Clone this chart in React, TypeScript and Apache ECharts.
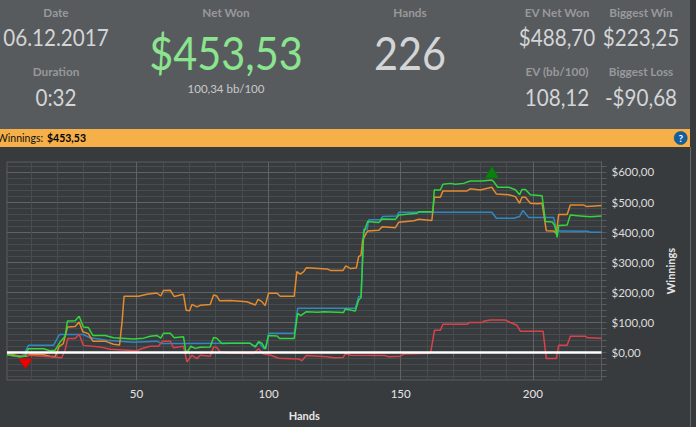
import React, { useEffect, useRef } from "react";
import * as echarts from "echarts";

const W = 696;
const H = 427;

const blueValues = [[1,-7],[5.9,-14],[7.4,-7],[9.1,24],[18.6,24],[20.8,60],[29.9,60],[32.4,49],[38.8,41],[43.8,38],[48.9,34],[57.7,38],[59.6,30],[67.8,30],[85.5,31],[93,31],[95,17],[96.2,36],[98.1,14],[99,14],[100,64],[109.7,64],[111,147],[128.4,147],[132.8,147],[134.1,186],[135,186],[136,410],[137.3,410],[137.9,441],[142.3,441],[143.2,452],[148.6,454],[149.3,466],[184.5,466],[186.2,446],[192.8,446],[195,452],[196.3,472],[198.4,449],[207.9,449],[208.9,404],[209.8,404],[220.6,403],[221.8,400],[226,400]];

const orangeValues = [[1,-3],[5.9,-12],[8.5,-12],[9.7,-6],[14.8,-7],[17.3,-12],[19.2,-14],[20.8,21],[22.3,30],[23.9,85],[26.8,87],[28.3,102],[29.7,69],[31.8,63],[33.5,38],[38.1,38],[41.3,28],[43.6,25],[44.6,107],[45.3,187],[50.8,187],[54,194],[57.7,198],[59.2,188],[60.2,206],[62.8,207],[64.3,186],[67.8,194],[68.8,141],[70.1,139],[71,160],[72.9,152],[74.1,157],[77.9,160],[79.2,191],[80.4,188],[81.5,172],[85.5,173],[91.8,169],[95,158],[96,177],[97.5,169],[98.7,156],[100,197],[103.2,197],[104.4,187],[109.7,187],[110.7,269],[112,261],[113.3,269],[114.3,282],[122.1,278],[123.4,273],[128.2,273],[129.2,288],[131,279],[133.2,281],[134.1,319],[135,324],[135.6,374],[137.5,404],[141.7,406],[143,418],[148,415],[149.3,433],[155,438],[156.8,443],[161.8,439],[162.7,516],[165,516],[166,537],[175.1,537],[176.3,544],[180.1,540],[184.5,549],[186.2,527],[190.9,524],[193.4,518],[195,496],[195.9,516],[197.2,516],[199.1,496],[201.6,494],[203.5,496],[205.1,405],[207.9,404],[208.9,396],[209.8,459],[213,459],[214.2,490],[219.3,490],[220.5,485],[226,488.7]];

const redValues = [[1,-7],[5.9,-14],[8.5,-9],[17.3,-14],[21.7,-17],[23,8],[24,47],[26.8,47],[28.3,61],[29.9,24],[36.2,19],[40,11],[50,6],[52,13],[55.2,21],[58.3,21],[59.9,38],[62.8,38],[64,16],[67.8,21],[69.1,-31],[71,-9],[72.9,-20],[74.1,-9],[77.9,-12],[79.2,19],[80.4,17],[81.7,2],[85.5,-1],[94.3,-3],[96.2,13],[98.1,-5],[100.6,-8],[103.8,-19],[111.4,-21],[112.6,-27],[114.3,-10],[122.1,-14],[124.6,-17],[128.2,-16],[129.2,-3],[131,-9],[144.2,-10],[145.5,-14],[149.9,-12],[151.2,-5],[161.3,-2],[162.8,74],[165,74],[166,94],[175.1,94],[176.1,100],[180.8,100],[181.4,104],[183.9,108],[189.6,108],[191.5,100],[194,91],[195.3,71],[203.9,71],[205.1,-20],[208.9,-20],[209.8,24],[213,24],[214.2,54],[219.9,54],[220.9,49],[226,48]];

const greenValues = [[1,-7],[5.9,-14],[7.8,-12],[9.1,13],[14.8,13],[17.3,6],[19.2,8],[21.1,35],[23,54],[23.9,105],[26.8,106],[28.3,121],[29.9,85],[31.8,83],[33.5,57],[38.1,57],[41.3,49],[48.9,45],[52.7,48],[55.2,54],[57.7,57],[59.2,48],[60.2,64],[62.8,64],[64.3,49],[67.8,53],[68.8,-3],[70.6,21],[72.2,14],[74.1,18],[77.9,19],[79.2,50],[80.4,48],[82.3,30],[85.5,31],[93,31],[95,20],[96.2,36],[97.5,31],[98.7,12],[100,57],[103.2,55],[104.2,47],[109.7,47],[111,130],[112.2,123],[114.3,136],[118.6,134],[120.8,136],[128.4,133],[129,145],[132.8,138],[134.1,175],[135,183],[136,398],[137.5,435],[141.7,432],[143,444],[148,443],[149.3,457],[156.2,463],[156.8,468],[162.2,468],[162.7,540],[165,540],[166,559],[168.8,562],[170.7,559],[173.8,562],[176.3,570],[180.8,570],[184.5,573],[185.2,568],[186.7,549],[190.9,549],[193.4,541],[195,524],[195.9,542],[197.2,542],[199.1,524],[203.5,521],[204.8,435],[207.3,434],[208.3,422],[209.2,383],[209.8,422],[213,424],[214.2,457],[218,454],[221.8,451],[226,453.53]];

const zeroValues = [[1,0],[226,0]];
const lowPoint = [8, -14];
const highPoint = [184.5, 573];

const xTicks = [10,20,30,40,50,60,70,80,90,100,110,120,130,140,150,160,170,180,190,200,210,220];
const xLabels = [50,100,150,200];
const yTicks = [-80,-60,-40,-20,0,20,40,60,80,100,120,140,160,180,200,220,240,260,280,300,320,340,360,380,400,420,440,460,480,500,520,540,560,580,600,620];
const yLabels = [0,100,200,300,400,500,600];

const headerLabels = [
  { text: "Date", x: 56, y: 12 },
  { text: "Duration", x: 56, y: 71 },
  { text: "Net Won", x: 226, y: 12 },
  { text: "Hands", x: 410, y: 12 },
  { text: "EV Net Won", x: 557, y: 12 },
  { text: "EV (bb/100)", x: 557, y: 71 },
  { text: "Biggest Win", x: 641, y: 12 },
  { text: "Biggest Loss", x: 641, y: 71 },
];
const headerValues = [
  { text: "06.12.2017", x: 56, y: 37 },
  { text: "0:32", x: 56, y: 97 },
  { text: "$488,70", x: 557, y: 37 },
  { text: "108,12", x: 557, y: 97 },
  { text: "$223,25", x: 641, y: 37 },
  { text: "-$90,68", x: 641, y: 97 },
];

const FONT = "Lato, 'Open Sans', sans-serif";
const MINOR = "#494c4f";
const MAJOR = "#606365";
const gridColors = [MINOR, MINOR, MINOR, MINOR, MAJOR];

function hText(t: any, size: number, fill: string, weight: any = "normal", sx = 0.86) {
  return {
    type: "text",
    x: t.x,
    y: t.y,
    scaleX: sx,
    z: 5,
    style: { text: t.text, fill, font: `${weight} ${size}px ${FONT}`, textAlign: "center", textVerticalAlign: "middle" },
  };
}

export default function App() {
  const ref = useRef<HTMLDivElement>(null);
  useEffect(() => {
    const chart = echarts.init(ref.current!, undefined, { renderer: "svg", width: W, height: H });
    const line = (name: string, data: number[][], color: string, extra: any = {}) => ({
      name,
      type: "line",
      data,
      showSymbol: false,
      symbol: "none",
      silent: true,
      clip: false,
      lineStyle: { color, width: 1.5 },
      ...extra,
    });
    chart.setOption({
      animation: false,
      backgroundColor: "#383b3e",
      grid: { left: 7, right: 94.5, top: 162, bottom: 47, show: true, borderColor: "#5a5d5f", borderWidth: 1, backgroundColor: "transparent" },
      xAxis: {
        type: "value",
        min: 1,
        max: 226,
        splitLine: { show: true, showMinLine: true, showMaxLine: true, lineStyle: { color: gridColors, width: 1 } },
        axisLine: { show: true, lineStyle: { color: "#5a5d5f" } },
        axisTick: { show: true, length: 5, customValues: xTicks, lineStyle: { color: "#5a5d5f" } },
        axisLabel: {
          color: "#e6e6e6",
          fontFamily: FONT,
          fontSize: 11.5,
          margin: 7,
          customValues: xLabels,
          formatter: (v: number) => String(v),
        },
        name: "Hands",
        nameLocation: "middle",
        nameGap: 30,
        nameTextStyle: { color: "#e6e6e6", fontFamily: FONT, fontWeight: "bold", fontSize: 11 },
      },
      yAxis: {
        type: "value",
        position: "right",
        min: -91,
        max: 633,
        splitLine: { show: true, showMinLine: true, showMaxLine: true, lineStyle: { color: gridColors, width: 1 } },
        axisLine: { show: true, lineStyle: { color: "#5a5d5f" } },
        axisTick: { show: true, length: 5, customValues: yTicks, lineStyle: { color: "#5a5d5f" } },
        axisLabel: {
          color: "#dcdcdc",
          fontFamily: FONT,
          fontSize: 11.5,
          margin: 10,
          customValues: yLabels,
          formatter: (v: number) => `$${v},00`,
        },
        name: "Winnings",
        nameLocation: "middle",
        nameRotate: 90,
        nameGap: 62,
        nameTextStyle: { color: "#e6e6e6", fontFamily: FONT, fontWeight: "bold", fontSize: 11 },
      },
      series: [
        line("EV", blueValues, "#2f88c6"),
        line("Showdown", orangeValues, "#e58b2d"),
        line("No showdown", redValues, "#d8424b"),
        line("Net", greenValues, "#2fd63c", {
          markPoint: {
            silent: true,
            label: { show: false },
            data: [
              { coord: lowPoint, symbol: "triangle", symbolRotate: 180, symbolSize: [14, 10], symbolOffset: [0, 7], itemStyle: { color: "#f00000", borderColor: "#9a1010", borderWidth: 0.5 } },
              { coord: highPoint, symbol: "triangle", symbolSize: [14, 12], symbolOffset: [0, -8], itemStyle: { color: "#0b800f", borderColor: "#0b5f0f", borderWidth: 0.5 } },
            ],
          },
        }),
        line("Zero", zeroValues, "#ffffff", { lineStyle: { color: "#ffffff", width: 2.5 } }),
      ],
      graphic: [
        { type: "rect", z: 1, shape: { x: 0, y: 0, width: 690, height: 129 }, style: { fill: "#575b5e" } },
        { type: "rect", z: 1, shape: { x: 0, y: 129, width: 690, height: 18 }, style: { fill: "#f5b049" } },
        { type: "rect", z: 1, shape: { x: 690, y: 147, width: 1, height: 280 }, style: { fill: "#66696b" } },
        ...headerLabels.map((t) => hText(t, 12, "#98999b", "bold", 0.98)),
        ...headerValues.map((t) => hText(t, 24, "#d4d5d6")),
        hText({ text: "$453,53", x: 226, y: 52 }, 46, "#8be58f", "normal", 0.9),
        hText({ text: "226", x: 410, y: 52 }, 46, "#d4d5d6", "normal", 0.9),
        hText({ text: "100,34 bb/100", x: 226, y: 88 }, 11.5, "#c8c9ca", "normal", 1),
        { type: "text", x: -3, y: 138, z: 5, style: { text: "Winnings:", fill: "#111", font: `normal 10.5px ${FONT}`, textVerticalAlign: "middle" } },
        { type: "text", x: 47, y: 138, z: 5, style: { text: "$453,53", fill: "#000", font: `bold 10.5px ${FONT}`, textVerticalAlign: "middle" } },
        { type: "circle", z: 5, shape: { cx: 680.7, cy: 138, r: 6.5 }, style: { fill: "#14609f", stroke: "#0d4474", lineWidth: 0.5 } },
        { type: "text", x: 680.7, y: 138, z: 6, style: { text: "?", fill: "#ffffff", font: `bold 10px ${FONT}`, textAlign: "center", textVerticalAlign: "middle" } },
      ],
    });
    return () => chart.dispose();
  }, []);
  return <div ref={ref} style={{ position: "absolute", left: 0, top: 0, width: W, height: H }} />;
}
